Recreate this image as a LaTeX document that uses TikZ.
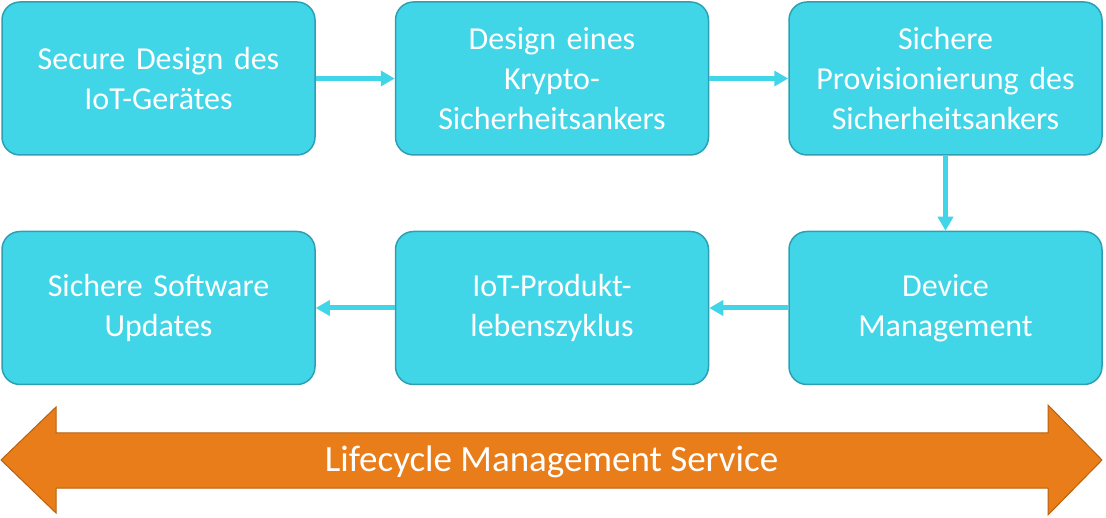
\documentclass[tikz,border=0pt]{standalone}
\usepackage{fontspec}
\setmainfont{Carlito}
\usetikzlibrary{positioning,arrows.meta}
\definecolor{boxColor}{HTML}{41D5E8}
\definecolor{boxBorder}{HTML}{2EA0B3}
\definecolor{lifeColor}{HTML}{E87D1A}
\definecolor{lifeBorder}{HTML}{B8620F}
\tikzstyle{roundrect}=[rectangle, rounded corners=18pt, minimum width=313pt, minimum height=153pt, text centered, draw=boxBorder, line width=1.5pt, fill=boxColor, text width=305pt, text=white, font=\fontsize{32}{40}\selectfont]
\tikzstyle{arrow}=[draw=boxColor, line width=5pt, -{Triangle[length=14pt,width=15pt]}]

\begin{document}
\begin{tikzpicture}[x=1pt, y=1pt, node distance=79pt]
	\useasboundingbox (0,0) rectangle (1106,517);
	
	\node (secure design) [roundrect] at (158.5,438.5) {Secure Design des\\IoT-Gerätes};
	\node (crypto anchor) [roundrect, right=of secure design] {Design eines\\Krypto-\\Sicherheitsankers};
	\node (provisioning) [roundrect, right=of crypto anchor] {Sichere\\Provisionierung des\\Sicherheitsankers};
	
	\node (device mgmt) [roundrect, below=75pt of provisioning] {Device\\Management};
	\node (product life) [roundrect, left=of device mgmt] {IoT-Produkt-\\lebenszyklus};
	\node (software updates) [roundrect, left=of product life] {Sichere Software\\Updates};
	
	\draw [arrow] (secure design) -- (crypto anchor);
	\draw [arrow] (crypto anchor) -- (provisioning);
	\draw [arrow] (provisioning) -- (device mgmt);
	\draw [arrow] (device mgmt) -- (product life);
	\draw [arrow] (product life) -- (software updates);
	
	% lifecycle band
	\coordinate (left tip) at (1,57);
	\coordinate (right tip) at (1102,57);
	\draw [fill=lifeColor, draw=lifeBorder, line width=1pt, line join=miter]
		(left tip) -- (56,110) -- (56,84) -- (1048,84) -- (1048,112)
		-- (right tip) -- (1048,2) -- (1048,29) -- (56,29) -- (56,4) -- cycle;
	\node (lifecycle) [text=white, font=\fontsize{37}{40}\selectfont] at (551.5,55) {Lifecycle Management Service};
	
\end{tikzpicture}
\end{document}
